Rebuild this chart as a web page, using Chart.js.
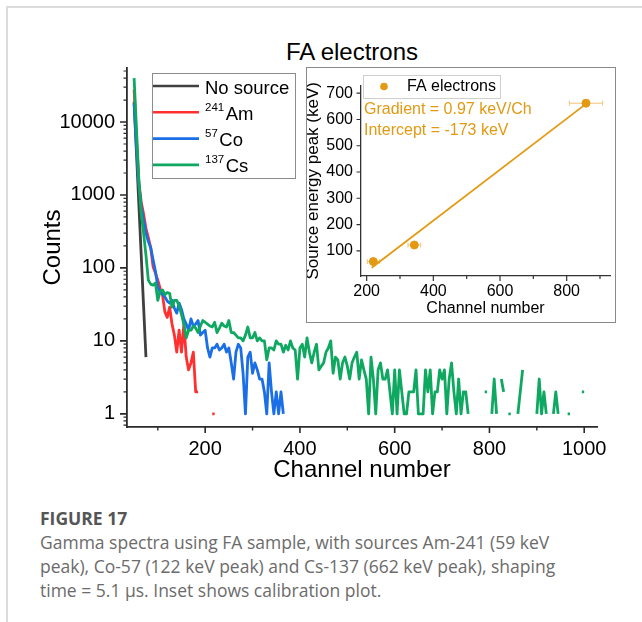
<!DOCTYPE html>
<html>
<head>
<meta charset="utf-8">
<title>FA electrons – gamma spectra</title>
<script src="https://cdn.jsdelivr.net/npm/chart.js@4.4.1/dist/chart.umd.min.js"></script>
<style>
  html, body { margin: 0; padding: 0; background: #fff; }
  body { width: 642px; height: 622px; position: relative; overflow: hidden;
         font-family: "Liberation Sans", Arial, sans-serif; }
  #frame { position: absolute; left: 6px; top: 6px; width: 640px; height: 620px;
           border-left: 2px solid #dcdcdc; border-top: 2px solid #dcdcdc; }
  #plotTitle { position: absolute; left: 202px; width: 300px; top: 36px; text-align: center;
               font-size: 24px; line-height: 32px; color: #000; }
  #main { position: absolute; left: 0; top: 0; }
  #insetBox { position: absolute; left: 306px; top: 67px; width: 308px; height: 254px;
              border: 1px solid #8a8a8a; background: #fff; }
  #inset { position: absolute; left: 0; top: 0; }
  #caption { position: absolute; left: 40px; top: 506px; font-family: "Open Sans", Lato, sans-serif;
             color: #6b6b6b; font-size: 17.5px; line-height: 24px; white-space: nowrap; }
  #caption .fig { font-weight: 700; color: #555; font-size: 17.5px; }
</style>
</head>
<body>
<div id="frame"></div>
<div id="plotTitle">FA electrons</div>
<canvas id="main" width="642" height="500"></canvas>
<div id="insetBox"><canvas id="inset" width="308" height="254"></canvas></div>
<div id="caption">
  <div class="fig">FIGURE 17</div>
  <div>Gamma spectra using FA sample, with sources Am-241 (59 keV</div>
  <div>peak), Co-57 (122 keV peak) and Cs-137 (662 keV peak), shaping</div>
  <div>time = 5.1 μs. Inset shows calibration plot.</div>
</div>
<script>
// ---- Spectra: counts per 5-channel bin, starting at channel 50 (null = empty bin) ----
const CH_START = 50, CH_STEP = 5, CH_COUNT = 191;
const channels = Array.from({ length: CH_COUNT }, (_, i) => CH_START + i * CH_STEP);

const countsNoSource = [19000, 3800, 750, 150, 30, 6];

const countsAm241 = [
  28000, 6000, 1500, 800, 550, 350, 260, 190, 104, 85,
  68, 52, 42, 25, 21, 29, 17, 12, 7, 14,
  7, 17, 6, 4, 5, 7, 2, 2, null, null,
  null, null, null, 1, 1
];

const countsCo57 = [
  18000, 4500, 1400, 700, 450, 300, 230, 190, 130, 90,
  55, 46, 44, 40, 35, 33, 36, 28, 24, 33,
  27, 20, 17, 14, 20, 16, 17, 19, 12, 13,
  14, 8, 6, 8, 8, 9, 7.5, 8, 9, 7,
  8, 5, 3, 7, 9, 8, 3.6, 1, 6, 7,
  3.6, 5, 4, 3, 3, 2, 1, 5, 2, 1,
  2, 1, 2, 1
];

const countsCs137 = [
  40000, 8000, 1600, 560, 300, 150, 68, 60, 58, 62,
  36, 48, 50, 43, 46, 45, 29, 36, 36, 30,
  23, 17, 11, 14, 14, 16, 15, 13, 16, 19,
  18, 17, 16, 15.5, 18, 13, 15, 17.5, 16, 15.5,
  19, 13, 13, 12, 11, 11, 10, 12, 15.5, 11,
  11, 13, 10, 11, 10, 10, 5.5, 8, 8, 7.5,
  10, 9, 9, 7, 8.7, 7.5, 10, 8, 7.5, 3,
  8, 9, 6, 11, 7, 5, 7, 9, 4, 4.5,
  5, 7, 8, 10, 3.6, 6, 5.5, 3, 5, 6,
  4.5, 3, 5, 6, 7, 3, 5.5, 4, 3, 1,
  6, 3, 1, 4, 5, 3, 3, 4, 2, 1,
  4, 1, 4, 2, 1, 1, 2, 2, 2, 4,
  1, 1, 1, 4, 2, 4, 1, 2, 2, 4,
  3, 4, 1, 3, 5, 2, 1, 3, 1, 2,
  2, 1, null, null, null, null, null, null, 2, 2,
  null, 1, 3, 1, null, 3, 2, null, 1, 1,
  null, null, 1, 2, 4, null, null, null, null, null,
  1, 3, 1, 2, 1, null, null, 1, 2, 1,
  null, null, null, 1, 1, null, null, null, null, 2,
  2
];

const seriesCounts = [countsNoSource, countsAm241, countsCo57, countsCs137];
const seriesColors = ['#404040', '#ff3030', '#1a6fe6', '#0fa861'];
const legendMass = ['', '241', '57', '137'];
const legendSymbol = ['No source', 'Am', 'Co', 'Cs'];

const xMajorTicks = [200, 400, 600, 800, 1000];
const xMinorTicks = [100, 300, 500, 700, 900];
const yMajorTicks = [1, 10, 100, 1000, 10000];

// ---- Calibration (inset) ----
const calibChannel = [220, 343, 858];
const calibChannelErr = [18, 19, 50];
const calibEnergy = [59, 122, 662];
const fitGradient = 0.97;     // keV per channel
const fitIntercept = -173;    // keV
const fitRange = [215, 862];
const insetXTicks = [200, 400, 600, 800];
const insetXMinor = [300, 500, 700, 900];
const insetYTicks = [100, 200, 300, 400, 500, 600, 700];

const FONT = '"Liberation Sans", Arial, sans-serif';
Chart.defaults.font.family = FONT;
const ORANGE = '#e39a12';

// outward tick marks (major + minor) drawn from the scale's own pixel mapping
function drawAxisTicks(ctx, scale, values, len, color, width) {
  ctx.save();
  ctx.strokeStyle = color;
  ctx.lineWidth = width;
  ctx.beginPath();
  values.forEach(v => {
    if (v < scale.min || v > scale.max) return;
    const p = scale.getPixelForValue(v);
    if (scale.isHorizontal()) {
      ctx.moveTo(p, scale.top); ctx.lineTo(p, scale.top + len);
    } else {
      ctx.moveTo(scale.right, p); ctx.lineTo(scale.right - len, p);
    }
  });
  ctx.stroke();
  ctx.restore();
}

// log-decade minor ticks 2..9
function logMinorTicks(min, max) {
  const out = [];
  for (let d = 0.1; d <= max; d *= 10) {
    for (let m = 2; m <= 9; m++) {
      const v = m * d;
      if (v >= min && v <= max) out.push(v);
    }
  }
  return out;
}

const mainTicksPlugin = {
  id: 'mainTicks',
  afterDraw(chart) {
    const ctx = chart.ctx, x = chart.scales.x, y = chart.scales.y;
    drawAxisTicks(ctx, x, xMajorTicks, 6, '#2b2b2b', 1.6);
    drawAxisTicks(ctx, x, xMinorTicks, 3.5, '#2b2b2b', 1.4);
    drawAxisTicks(ctx, y, yMajorTicks, 7, '#2b2b2b', 1.6);
    drawAxisTicks(ctx, y, logMinorTicks(y.min, y.max), 3.5, '#2b2b2b', 1.2);
  }
};

const isotopeLegend = {
  id: 'isotopeLegend',
  afterDraw(chart) {
    const ctx = chart.ctx;
    ctx.save();
    ctx.fillStyle = '#fff';
    ctx.fillRect(152.5, 73.5, 143, 105);
    ctx.strokeStyle = '#8c8c8c';
    ctx.lineWidth = 1;
    ctx.strokeRect(152.5, 73.5, 143, 105);
    legendSymbol.forEach((name, k) => {
      const rowY = 86 + k * 26.3;
      ctx.strokeStyle = seriesColors[k];
      ctx.lineWidth = 2.6;
      ctx.beginPath();
      ctx.moveTo(153, rowY); ctx.lineTo(199, rowY);
      ctx.stroke();
      ctx.fillStyle = '#000';
      ctx.textBaseline = 'alphabetic';
      ctx.textAlign = 'left';
      const base = rowY + 7.5;
      let tx = 205;
      if (legendMass[k]) {
        ctx.font = '11.5px ' + FONT;
        ctx.fillText(legendMass[k], tx, base - 9);
        tx += ctx.measureText(legendMass[k]).width + 1.5;
      }
      ctx.font = '18.5px ' + FONT;
      ctx.fillText(name, tx, base);
    });
    ctx.restore();
  }
};

new Chart(document.getElementById('main'), {
  type: 'line',
  data: {
    datasets: seriesCounts.map((counts, k) => ({
      label: legendMass[k] + legendSymbol[k],
      data: counts.map((c, i) => ({ x: channels[i], y: c })),
      borderColor: seriesColors[k],
      backgroundColor: seriesColors[k],
      borderWidth: 2.8,
      borderJoinStyle: 'round',
      pointRadius: 0,
      tension: 0,
      spanGaps: false,
      order: 3 - k
    }))
  },
  options: {
    responsive: false,
    animation: false,
    events: [],
    layout: { padding: { left: 0, top: 68, right: 45, bottom: 0 } },
    plugins: { legend: { display: false }, tooltip: { enabled: false }, title: { display: false } },
    scales: {
      x: {
        type: 'linear', min: 35, max: 1027,
        afterBuildTicks: s => { s.ticks = xMajorTicks.map(v => ({ value: v })); },
        afterFit: s => { s.height = 73; },
        grid: { display: false, drawTicks: false },
        border: { display: true, color: '#2b2b2b', width: 1.8 },
        ticks: { color: '#000', font: { size: 20 }, padding: 10, maxRotation: 0, autoSkip: false,
                 callback: v => String(v) },
        title: { display: true, text: 'Channel number', color: '#000', font: { size: 24 },
                 padding: { top: 0, bottom: 15 } }
      },
      y: {
        type: 'logarithmic', min: 0.66, max: 55000,
        afterBuildTicks: s => { s.ticks = yMajorTicks.map(v => ({ value: v })); },
        afterFit: s => { s.width = 127; },
        grid: { display: false, drawTicks: false },
        border: { display: true, color: '#2b2b2b', width: 1.8 },
        ticks: { color: '#000', font: { size: 20 }, padding: 12, autoSkip: false,
                 callback: v => String(v) },
        title: { display: true, text: 'Counts', color: '#000', font: { size: 24 },
                 padding: { top: 38.6, bottom: 0 } }
      }
    }
  },
  plugins: [mainTicksPlugin, isotopeLegend]
});

// ---- Inset: calibration of peak channel against source energy ----
const insetDecor = {
  id: 'insetDecor',
  beforeDatasetsDraw(chart) {
    const ctx = chart.ctx, x = chart.scales.x, y = chart.scales.y;
    ctx.save();
    ctx.strokeStyle = '#f3c27a';
    ctx.lineWidth = 1;
    calibChannel.forEach((c, i) => {
      const py = y.getPixelForValue(calibEnergy[i]);
      const x0 = x.getPixelForValue(c - calibChannelErr[i]);
      const x1 = x.getPixelForValue(c + calibChannelErr[i]);
      ctx.beginPath();
      ctx.moveTo(x0, py); ctx.lineTo(x1, py);
      ctx.moveTo(x0, py - 2.5); ctx.lineTo(x0, py + 2.5);
      ctx.moveTo(x1, py - 2.5); ctx.lineTo(x1, py + 2.5);
      ctx.stroke();
    });
    ctx.restore();
  },
  afterDraw(chart) {
    const ctx = chart.ctx, x = chart.scales.x, y = chart.scales.y;
    drawAxisTicks(ctx, x, insetXTicks, 5, '#333', 1.2);
    drawAxisTicks(ctx, x, insetXMinor, 3, '#333', 1.2);
    drawAxisTicks(ctx, y, insetYTicks, 4.5, '#333', 1.2);
    ctx.save();
    // legend
    ctx.strokeStyle = '#cfcfcf';
    ctx.lineWidth = 1;
    ctx.strokeRect(56.5, 7.5, 137, 23);
    ctx.fillStyle = ORANGE;
    ctx.beginPath();
    ctx.arc(77, 18.5, 3.8, 0, Math.PI * 2);
    ctx.fill();
    ctx.fillStyle = '#000';
    ctx.font = '16px ' + FONT;
    ctx.textBaseline = 'middle';
    ctx.textAlign = 'left';
    ctx.fillText(chart.data.datasets[0].label, 100, 19);
    // fit parameters
    ctx.fillStyle = ORANGE;
    ctx.fillText('Gradient = ' + fitGradient.toFixed(2) + ' keV/Ch', 57, 42);
    ctx.fillText('Intercept = ' + fitIntercept + ' keV', 57, 63);
    ctx.restore();
  }
};

new Chart(document.getElementById('inset'), {
  type: 'scatter',
  data: {
    datasets: [
      {
        label: 'FA electrons',
        data: calibChannel.map((c, i) => ({ x: c, y: calibEnergy[i] })),
        pointRadius: 4,
        pointBackgroundColor: ORANGE,
        pointBorderColor: ORANGE,
        showLine: false,
        order: 0
      },
      {
        label: 'Linear fit',
        type: 'line',
        data: fitRange.map(c => ({ x: c, y: fitGradient * c + fitIntercept })),
        borderColor: ORANGE,
        borderWidth: 1.8,
        pointRadius: 0,
        tension: 0,
        order: 1
      }
    ]
  },
  options: {
    responsive: false,
    animation: false,
    events: [],
    layout: { padding: { left: 0, top: 5, right: 5, bottom: 0 } },
    plugins: { legend: { display: false }, tooltip: { enabled: false } },
    scales: {
      x: {
        type: 'linear', min: 183, max: 930,
        afterBuildTicks: s => { s.ticks = insetXTicks.map(v => ({ value: v })); },
        afterFit: s => { s.height = 46; },
        grid: { display: false, drawTicks: false },
        border: { display: true, color: '#333', width: 1.3 },
        ticks: { color: '#000', font: { size: 16 }, padding: 6, maxRotation: 0, autoSkip: false,
                 callback: v => String(v) },
        title: { display: true, text: 'Channel number', color: '#000', font: { size: 16 },
                 padding: { top: 0, bottom: 4 } }
      },
      y: {
        type: 'linear', min: 4, max: 729,
        afterBuildTicks: s => { s.ticks = insetYTicks.map(v => ({ value: v })); },
        afterFit: s => { s.width = 54; },
        grid: { display: false, drawTicks: false },
        border: { display: true, color: '#333', width: 1.3 },
        ticks: { color: '#000', font: { size: 16 }, padding: 8, autoSkip: false,
                 callback: v => String(v) },
        title: { display: true, text: 'Source energy peak (keV)', color: '#000', font: { size: 17 },
                 padding: { top: -3.4, bottom: 0 } }
      }
    }
  },
  plugins: [insetDecor]
});
</script>
</body>
</html>
